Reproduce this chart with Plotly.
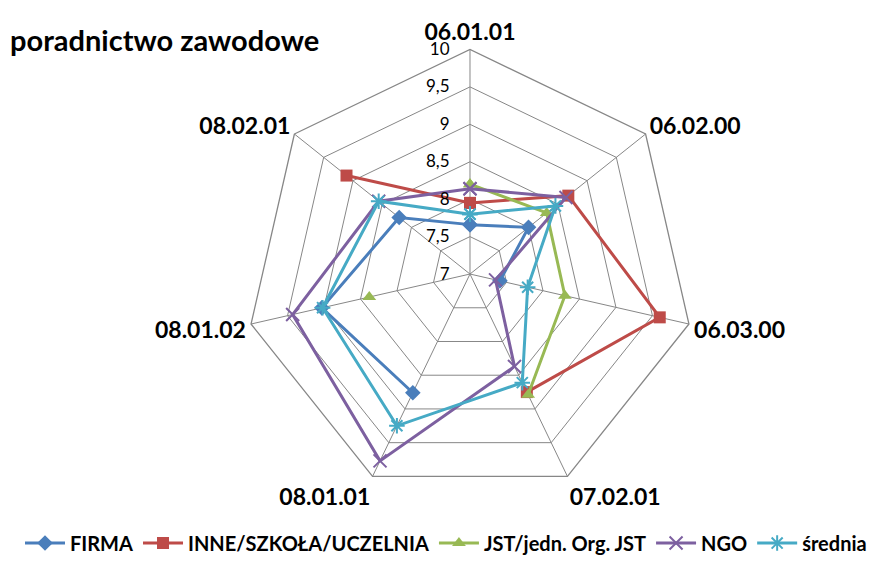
import plotly.graph_objects as go

# Categories around the radar (clockwise from top)
categories = ["06.01.01", "06.02.00", "06.03.00", "07.02.01", "08.01.01", "08.01.02", "08.02.01"]

# Series values (None = no data for that category)
firma = [7.66, 8.00, 7.41, None, 8.76, 9.03, 8.21]
inne = [7.95, 8.68, 9.60, 8.75, None, None, 9.11]
jst = [8.20, 8.31, 8.30, 8.79, None, 8.38, None]
ngo = [8.14, 8.64, 7.35, 8.37, 9.77, 9.43, 8.56]
srednia = [7.80, 8.46, 7.79, 8.61, 9.25, 9.02, 8.56]

series_names = ["FIRMA", "INNE/SZKOŁA/UCZELNIA", "JST/jedn. Org. JST", "NGO", "średnia"]
series_values = [firma, inne, jst, ngo, srednia]
series_colors = ["#4A7EBB", "#BE4B48", "#98B954", "#7D60A0", "#46AAC5"]
series_symbols = ["diamond", "square", "triangle-up", "x-thin-open", "asterisk-open"]

# Radial ticks with Polish decimal commas
tick_vals = [7, 7.5, 8, 8.5, 9, 9.5, 10]
tick_text = ["7", "7,5", "8", "8,5", "9", "9,5", "10"]

fig = go.Figure()
for name, vals, color, sym in zip(series_names, series_values, series_colors, series_symbols):
    # close the loop by repeating the first point
    r = list(vals) + [vals[0]]
    theta = categories + [categories[0]]
    open_sym = sym.endswith("open")
    fig.add_trace(go.Scatterpolar(
        r=r, theta=theta, name=f"<b>{name}</b>", mode="lines+markers",
        connectgaps=False,
        line=dict(color=color, width=3),
        marker=dict(symbol=sym, size=12 if not open_sym else 13, color=color,
                    line=dict(color=color, width=2 if open_sym else 0)),
    ))

# pad radial labels away from the axis line
pad = "\u00a0" * 4

fig.update_layout(
    width=892, height=563,
    margin=dict(l=0, r=0, t=0, b=0),
    paper_bgcolor="white",
    plot_bgcolor="white",
    font=dict(family="Lato, 'Open Sans', sans-serif", color="black"),
    polar=dict(
        domain=dict(x=[0.2724, 0.7814], y=[0.1048, 0.9112]),
        gridshape="linear",
        bgcolor="white",
        radialaxis=dict(
            range=[7, 10], tickvals=tick_vals,
            ticktext=[t + pad for t in tick_text],
            angle=90, tickangle=90, side="counterclockwise",
            showline=False, ticks="", gridcolor="#878787", gridwidth=1.3,
            tickfont=dict(size=17, family="Lato", color="black"),
        ),
        angularaxis=dict(
            direction="clockwise", rotation=90,
            showline=True, linecolor="#878787", linewidth=1.3,
            gridcolor="#878787", gridwidth=1.3, ticks="",
            tickmode="array", tickvals=categories,
            ticktext=[f"<b>{c}</b>" for c in categories],
            tickfont=dict(size=23, family="Lato", color="black"),
        ),
    ),
    legend=dict(
        orientation="h", x=0.5, xanchor="center", y=-0.01, yanchor="bottom",
        font=dict(size=20, family="Lato", color="black"),
        itemwidth=40,
    ),
    annotations=[dict(
        text="<b>poradnictwo zawodowe</b>",
        x=0.009, xanchor="left", y=1 - 40 / 563, yanchor="middle",
        xref="paper", yref="paper", showarrow=False,
        font=dict(size=29, family="Lato", color="black"),
    )],
)

fig.write_html("out.html")
